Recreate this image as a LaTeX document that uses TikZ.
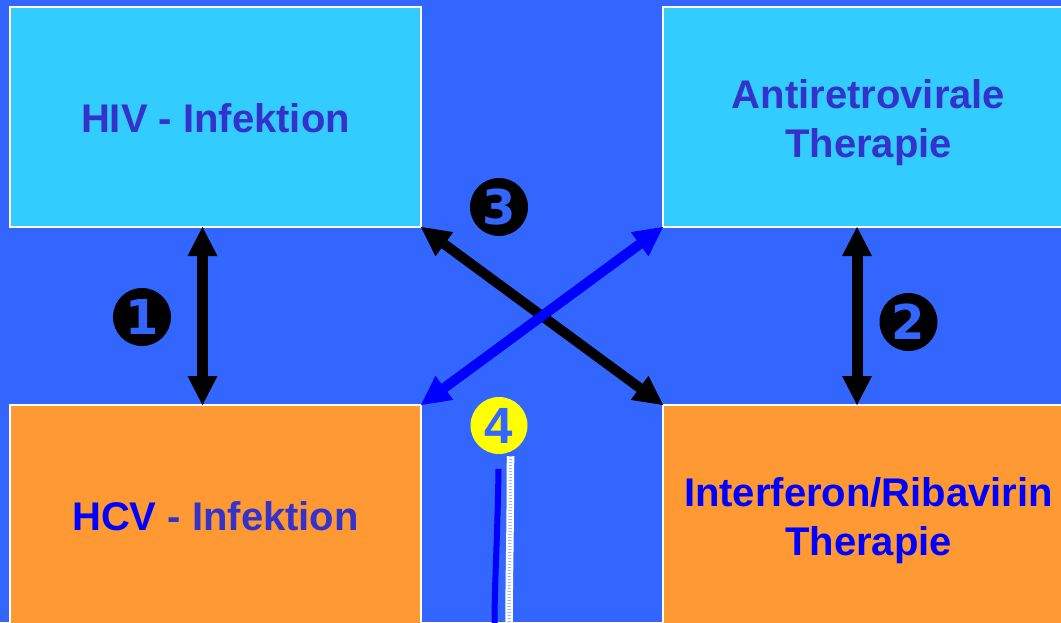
\documentclass[tikz,border=0pt]{standalone}
\usepackage{fontspec}
\setmainfont{Liberation Sans}
\newfontfamily\digitfont{DejaVu Sans Bold}
\usetikzlibrary{arrows.meta}

\definecolor{bgblue}{HTML}{3366FF}
\definecolor{skybox}{HTML}{33CCFF}
\definecolor{orangebox}{HTML}{FF9933}
\definecolor{darktext}{HTML}{3333CC}
\definecolor{pureblue}{HTML}{0000FF}
\definecolor{marker}{HTML}{FFFF00}

\begin{document}
\begin{tikzpicture}[x=1pt, y=-1pt,
  box/.style={rectangle, draw=white, line width=1.5pt, minimum width=411pt,
    minimum height=220pt, inner sep=0pt, outer sep=0pt},
  boxtext/.style={font=\fontsize{40}{49}\selectfont\bfseries, align=center,
    inner sep=0pt},
  dblarrow/.style={line width=11pt,
    {Triangle[length=29pt,width=30pt,line width=0pt]}-{Triangle[length=29pt,width=30pt,line width=0pt]}},
  crossarrow/.style={line width=10pt,
    {Triangle[length=29pt,width=30pt,line width=0pt]}-{Triangle[length=29pt,width=30pt,line width=0pt]}},
  numdisc/.style={circle, fill=black, minimum size=58pt, inner sep=0pt,
    text=bgblue, font=\digitfont\fontsize{48}{48}\selectfont},
]
  % canvas
  \clip (0,0) rectangle (1061,622);
  \fill[bgblue] (0,0) rectangle (1061,622);

  % the four fields
  \node[box, fill=skybox]    (hiv) at (215.5,117) {};
  \node[box, fill=skybox]    (art) at (868.5,117) {};
  \node[box, fill=orangebox] (hcv) at (215.5,515) {};
  \node[box, fill=orangebox] (ifn) at (868.5,515) {};

  \node[boxtext, text=darktext] (hivtxt) at ([yshift=-1.5pt]hiv.center) {HIV - Infektion};
  \node[boxtext, text=darktext] (arttxt) at ([yshift=-5.2pt]art.center) {Antiretrovirale\\Therapie};
  \node[boxtext, text=darktext] (hcvtxt) at ([yshift=-1.5pt]hcv.center)
    {\textcolor{pureblue}{HCV} - Infektion};
  \node[boxtext, text=pureblue] (ifntxt) at ([yshift=-5.2pt]ifn.center) {Interferon/Ribavirin\\Therapie};

  % interactions
  \draw[dblarrow, black] ([xshift=-13pt]hiv.south) -- ([xshift=-13pt]hcv.north);
  \draw[dblarrow, black] ([xshift=-11.5pt]art.south) -- ([xshift=-11.5pt]ifn.north);
  \draw[crossarrow, black] (hiv.south east) -- (ifn.north west);
  \draw[crossarrow, pureblue] (art.south west) -- (hcv.north east);

  % numbered markers
  \node[numdisc] (n1) at (142,317) {1};
  \node[numdisc] (n2) at (908.5,322) {2};
  \node[numdisc] (n3) at (499,207) {3};
  \node[circle, fill=marker, minimum size=57pt, inner sep=0pt, text=bgblue,
    font=\fontsize{51}{51}\selectfont\bfseries] (n4) at (499,425.5) {4};

  % strokes below marker 4
  \coordinate (s1) at (498.5,469);
  \coordinate (s2) at (494.5,626);
  \draw[line width=6pt, pureblue] (s1) .. controls (497.5,540) and (494.5,580) .. (s2);
  \coordinate (w1) at (510.5,456);
  \coordinate (w2) at (509,626);
  \draw[line width=7.5pt, white] (w1) .. controls (510.5,530) and (509,580) .. (w2);
  \draw[line width=3.5pt, bgblue!45!white, dash pattern=on 1pt off 2pt]
    (w1) .. controls (510.5,530) and (509,580) .. (w2);
\end{tikzpicture}
\end{document}
